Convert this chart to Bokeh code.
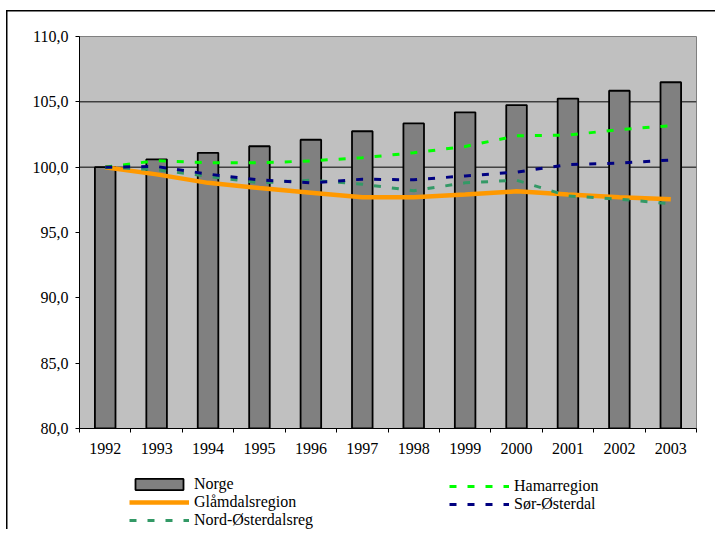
from bokeh.plotting import figure
from bokeh.layouts import column
from bokeh.models import (Range1d, FixedTicker, CustomJSTickFormatter, Legend, LegendItem,
                          Span, ColumnDataSource)
from bokeh.embed import file_html
from bokeh.resources import INLINE

years = ["1992", "1993", "1994", "1995", "1996", "1997", "1998", "1999", "2000", "2001", "2002", "2003"]
norge = [100.0, 100.6, 101.1, 101.6, 102.1, 102.75, 103.35, 104.2, 104.75, 105.25, 105.85, 106.5]
glamdal = [100.0, 99.45, 98.8, 98.4, 98.05, 97.7, 97.7, 97.9, 98.15, 97.9, 97.7, 97.55]
nord = [100.0, 99.8, 99.3, 98.8, 99.0, 98.7, 98.2, 98.8, 99.0, 97.8, 97.55, 97.2]
hamar = [100.0, 100.5, 100.33, 100.33, 100.48, 100.72, 101.1, 101.58, 102.4, 102.45, 102.88, 103.17]
sor = [100.0, 100.05, 99.47, 99.02, 98.8, 99.08, 99.03, 99.33, 99.62, 100.2, 100.31, 100.55]
y_ticks = [80, 85, 90, 95, 100, 105, 110]
grid_levels = [100, 105]

xs = [i + 0.5 for i in range(len(years))]
src = ColumnDataSource(dict(x=xs, norge=norge, glamdal=glamdal, nord=nord, hamar=hamar, sor=sor))

FONT = "Liberation Serif"
BAR = dict(fill_color="#808080", line_color="black", line_width=1.8)
GLAM = dict(line_color="#FF9900", line_width=4.5)
NORD = dict(line_color="#339966", line_width=3, line_dash="7 11")
HAMAR = dict(line_color="#00FF00", line_width=3, line_dash="7 11")
SOR = dict(line_color="#000080", line_width=3, line_dash="7 11")

# ---------------- main chart ----------------
p = figure(frame_width=617, frame_height=392, min_border_left=79, min_border_right=19,
           min_border_top=36, min_border_bottom=40, output_backend="svg", toolbar_location=None,
           x_range=Range1d(0, len(years)), y_range=Range1d(80, 110))
p.background_fill_color = "#C0C0C0"
p.border_fill_alpha = 0
p.outline_line_color = "#808080"
p.outline_line_width = 1
p.xgrid.visible = False
p.ygrid.visible = False

for lv in grid_levels:
    p.add_layout(Span(location=lv, dimension="width", line_color="black", line_width=1, level="underlay"))

p.yaxis.ticker = FixedTicker(ticks=y_ticks)
p.yaxis.formatter = CustomJSTickFormatter(code="return tick.toFixed(1).replace('.', ',');")
p.yaxis.major_tick_out = 4
p.yaxis.major_tick_in = 0
p.yaxis.minor_tick_line_color = None
p.yaxis.axis_line_color = "black"
p.yaxis.major_label_text_font = FONT
p.yaxis.major_label_text_font_size = "16px"
p.yaxis.major_label_text_color = "black"
p.yaxis.major_label_standoff = 7

p.xaxis.ticker = FixedTicker(ticks=xs, minor_ticks=list(range(len(years) + 1)))
p.xaxis.formatter = CustomJSTickFormatter(args=dict(years=years), code="return years[Math.floor(tick)];")
p.xaxis.major_tick_line_color = None
p.xaxis.minor_tick_out = 4
p.xaxis.minor_tick_in = 0
p.xaxis.minor_tick_line_color = "black"
p.xaxis.axis_line_color = "black"
p.xaxis.major_label_text_font = FONT
p.xaxis.major_label_text_font_size = "16px"
p.xaxis.major_label_text_color = "black"
p.xaxis.major_label_standoff = 8

p.vbar(x="x", top="norge", bottom=80, width=0.4, source=src, **BAR)
p.line("x", "glamdal", source=src, **GLAM)
p.line("x", "nord", source=src, **NORD)
p.line("x", "hamar", source=src, **HAMAR)
p.line("x", "sor", source=src, **SOR)

# ---------------- legend strip (hidden copies of the series, only their legend shows) ----------------
q = figure(width=715, height=61, min_border=0, output_backend="svg", toolbar_location=None,
           x_range=Range1d(0, len(years)), y_range=Range1d(80, 110), x_axis_type=None, y_axis_type=None)
q.grid.visible = False
q.outline_line_color = None
q.background_fill_alpha = 0
q.border_fill_alpha = 0

k_bar = q.vbar(x="x", top="norge", bottom=80, width=0.4, source=src, visible=False, **BAR)
k_glam = q.line("x", "glamdal", source=src, visible=False, **GLAM)
k_nord = q.line("x", "nord", source=src, visible=False, **NORD)
k_hamar = q.line("x", "hamar", source=src, visible=False, **HAMAR)
k_sor = q.line("x", "sor", source=src, visible=False, **SOR)

def make_legend(items, loc):
    lg = Legend(items=items, location=loc, orientation="vertical")
    lg.label_text_font = FONT
    lg.label_text_font_size = "16px"
    lg.label_text_color = "black"
    lg.label_height = 16
    lg.glyph_height = 14
    lg.glyph_width = 60
    lg.label_standoff = 5
    lg.padding = 0
    lg.margin = 0
    lg.spacing = -1
    lg.border_line_color = None
    lg.background_fill_alpha = 0
    lg.inactive_fill_alpha = 0
    return lg

leg1 = make_legend([LegendItem(label="Norge", renderers=[k_bar]),
                    LegendItem(label="Glåmdalsregion", renderers=[k_glam]),
                    LegendItem(label="Nord-Østerdalsreg", renderers=[k_nord])], (50, 0))
leg2 = make_legend([LegendItem(label="Hamarregion", renderers=[k_hamar]),
                    LegendItem(label="Sør-Østerdal", renderers=[k_sor])], (370, 16))
q.add_layout(leg1)
q.add_layout(leg2)

layout = column(p, q, spacing=0)
layout.styles = {
    "background-color": "white",
    "background-image": "linear-gradient(#000,#000), linear-gradient(#000,#000)",
    "background-size": "1.5px 100%, 100% 1.5px",
    "background-position": "6px 10px, 6px 10px",
    "background-repeat": "no-repeat",
}

open("out.html", "w").write(file_html(layout, INLINE))
